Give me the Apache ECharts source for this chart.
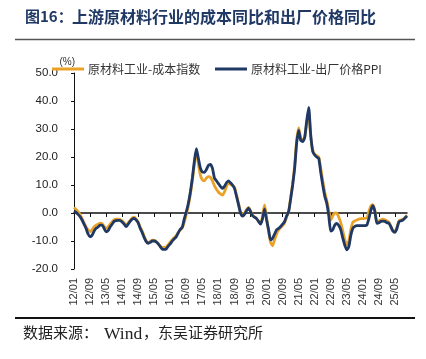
<!DOCTYPE html>
<html>
<head>
<meta charset="utf-8">
<script src="https://cdn.jsdelivr.net/npm/echarts@6/dist/echarts.min.js"></script>
<style>
html,body{margin:0;padding:0;background:#fff;}
#chart{width:426px;height:359px;}
</style>
</head>
<body>
<div id="chart"></div>
<script>
// Monthly data, 2012/01 – 2025/11
const startYear = 2012;
const nMonths = 167;
const categories = [];
for (let i = 0; i < nMonths; i++) {
  const y = startYear + Math.floor(i / 12);
  const m = (i % 12) + 1;
  categories.push(String(y).slice(2) + '/' + (m < 10 ? '0' + m : m));
}

const seriesNames = ['原材料工业-成本指数', '原材料工业-出厂价格PPI'];

const costIndex = [
  2.0, 1.3, 0.5, -0.5, -2.0, -3.5, -5.0, -6.0, -6.7, -6.0, -5.0, -4.3,
  -4.0, -3.6, -3.8, -4.8, -5.5, -5.0, -4.0, -3.2, -2.4, -2.2, -2.2, -2.3,
  -2.8, -3.6, -4.3, -3.5, -2.6, -1.8, -1.5, -2.2, -3.3, -5.0, -6.5, -8.3,
  -10.0, -10.5, -10.2, -9.7, -9.8, -10.2, -11.0, -11.8, -12.3, -12.3, -12.1, -11.3,
  -10.3, -9.5, -8.8, -8.0, -7.0, -6.0, -5.3, -3.2, -0.5, 2.5, 6.5, 11.5,
  17.5, 22.3, 17.5, 13.5, 11.8, 11.5, 12.5, 13.0, 12.8, 11.5, 9.8, 8.5,
  7.5, 6.8, 6.4, 7.5, 9.5, 10.6, 10.3, 9.8, 9.2, 6.5, 3.5, 0.5,
  -0.5, 0.0, 1.2, 2.0, 0.8, -0.8, -1.4, -2.0, -3.0, -3.8, -1.0, 2.9,
  -1.5, -6.5, -10.5, -11.7, -9.5, -7.5, -6.0, -5.2, -4.5, -3.5, -1.5, 0.5,
  5.5, 10.5, 17.0, 26.0, 30.4, 27.0, 26.0, 27.0, 32.0, 35.5, 27.0, 22.5,
  21.0, 20.5, 20.0, 16.0, 11.5, 7.5, 4.5, 1.0, -2.5, -1.0, 0.0, -0.1,
  -1.5, -3.5, -6.5, -9.5, -11.4, -10.0, -6.0, -3.3, -2.8, -2.5, -2.2, -2.0,
  -2.0, -1.9, -1.8, 0.5, 2.5, 3.0, 0.8, -3.1, -2.8, -2.4, -2.2, -2.4,
  -2.8, -3.3, -4.8, -6.3, -6.7, -5.0, -2.8, -2.5, -2.2, -1.6, -0.8
];

const ppi = [
  0.7, 0.2, -0.5, -1.3, -2.5, -4.0, -5.5, -7.5, -8.5, -8.0, -6.5, -5.5,
  -5.0, -4.3, -4.3, -5.5, -6.7, -6.3, -5.0, -4.0, -3.0, -2.7, -2.6, -2.7,
  -3.2, -4.0, -4.9, -4.0, -3.0, -2.2, -1.9, -2.5, -3.5, -5.5, -7.0, -8.8,
  -10.2, -10.8, -10.5, -10.0, -10.0, -10.3, -11.0, -12.0, -12.9, -13.0, -12.8, -11.8,
  -11.0, -10.0, -9.2, -8.5, -7.0, -5.8, -5.0, -2.0, 0.5, 3.5, 7.5, 12.5,
  18.5, 23.0, 19.5, 16.0, 14.6, 14.5, 15.5, 17.0, 17.4, 16.0, 12.5, 11.5,
  10.5, 9.5, 8.8, 9.5, 10.8, 11.5, 10.8, 10.0, 8.8, 6.0, 3.0, 0.0,
  -1.1, -0.5, 0.8, 1.7, 0.5, -1.0, -1.5, -2.0, -3.0, -4.0, -2.0, 1.5,
  -2.5, -6.0, -9.6, -9.0, -7.5, -6.0, -5.5, -4.8, -4.0, -3.0, -1.0, 0.5,
  5.0, 10.0, 16.0, 25.0, 29.5, 26.0, 25.5, 27.0, 33.0, 37.7, 28.0, 22.0,
  20.7, 20.0, 19.5, 14.5, 10.0, 6.0, 3.5, -1.0, -6.5, -6.0, -4.3, -3.7,
  -4.5, -6.0, -9.0, -11.5, -13.2, -12.0, -8.0, -5.5, -4.8, -4.5, -4.5, -4.5,
  -4.5, -4.5, -4.3, -2.0, 1.0, 2.6, 0.5, -3.7, -3.5, -3.0, -2.9, -3.0,
  -3.5, -3.7, -5.0, -6.5, -6.9, -5.5, -3.1, -2.8, -2.5, -1.8, -1.1
];

const yMin = -20, yMax = 50, yStep = 10;
const titleHead = '图16：';
const titleBody = '上游原材料行业的成本同比和出厂价格同比';
const sourceParts = ['数据来源：', 'Wind', '，东吴证券研究所'];

const colorCost = '#E9A128';
const colorPpi = '#1F3864';
const cjk = '"Noto Sans CJK SC", sans-serif';

const chart = echarts.init(document.getElementById('chart'), null, {renderer: 'canvas'});
const grid = {left: 74, right: 19, top: 73, bottom: 90};

chart.setOption({
  animation: false,
  backgroundColor: '#fff',
  graphic: [
    {type: 'text', left: 25, top: 9, style: {text: titleHead, font: 'bold 15px ' + cjk, fill: '#1F3864'}},
    {type: 'text', left: 72, top: 9, style: {text: titleBody, font: 'bold 16px ' + cjk, fill: '#1F3864'}},
    {type: 'line', shape: {x1: 15, y1: 39.5, x2: 415, y2: 39.5}, style: {stroke: '#555', lineWidth: 1.5}},
    {type: 'line', shape: {x1: 15, y1: 318, x2: 415, y2: 318}, style: {stroke: '#111', lineWidth: 2}},
    {type: 'text', left: 23, top: 325, style: {text: sourceParts[0], font: '15px ' + cjk, fill: '#222'}},
    {type: 'text', left: 104, top: 325, style: {text: sourceParts[1], font: '17.5px "Liberation Serif", serif', fill: '#222'}},
    {type: 'text', left: 143, top: 325, style: {text: sourceParts[2], font: '15px ' + cjk, fill: '#222'}}
  ],
  legend: [
    {
      data: [seriesNames[0]], left: 47, top: 58, itemGap: 4,
      icon: 'rect', itemWidth: 32, itemHeight: 3,
      textStyle: {fontSize: 12, color: '#333', fontFamily: cjk, padding: [0, 0, 0, -1]}
    },
    {
      data: [seriesNames[1]], left: 210, top: 58,
      icon: 'rect', itemWidth: 32, itemHeight: 3,
      textStyle: {fontSize: 12, color: '#333', fontFamily: cjk, padding: [0, 0, 0, -1]}
    }
  ],
  grid: grid,
  xAxis: [
    {
      type: 'category', data: categories, boundaryGap: false,
      axisLine: {onZero: true, lineStyle: {color: '#111', width: 1.5}},
      axisTick: {show: true, interval: 7, length: 4, inside: false, lineStyle: {color: '#111'}},
      axisLabel: {show: false},
      splitLine: {show: false}
    },
    {
      type: 'category', data: categories, boundaryGap: false, position: 'bottom',
      axisLine: {show: false, onZero: false},
      axisTick: {show: false},
      axisLabel: {interval: 7, rotate: 90, fontSize: 11, color: '#333', margin: 9, fontFamily: 'Liberation Sans, sans-serif'},
      splitLine: {show: false}
    }
  ],
  yAxis: {
    type: 'value', min: yMin, max: yMax, interval: yStep,
    name: '(%)', nameLocation: 'end', nameGap: 1,
    nameTextStyle: {fontSize: 10, color: '#333', align: 'right', padding: [0, -1, 0, 0]},
    axisLine: {show: true, lineStyle: {color: '#111', width: 1}},
    axisTick: {show: true, length: 3, lineStyle: {color: '#111'}},
    axisLabel: {fontSize: 11.5, color: '#222', margin: 16, formatter: v => v.toFixed(1), fontFamily: 'Liberation Sans, sans-serif'},
    splitLine: {show: false}
  },
  series: [
    {
      name: seriesNames[0], type: 'line', data: costIndex, xAxisIndex: 0,
      symbol: 'none', smooth: 0.2, color: colorCost,
      lineStyle: {color: colorCost, width: 2.8}
    },
    {
      name: seriesNames[1], type: 'line', data: ppi, xAxisIndex: 0,
      symbol: 'none', smooth: 0.2, color: colorPpi,
      lineStyle: {color: colorPpi, width: 2.8}
    }
  ]
});
</script>
</body>
</html>
